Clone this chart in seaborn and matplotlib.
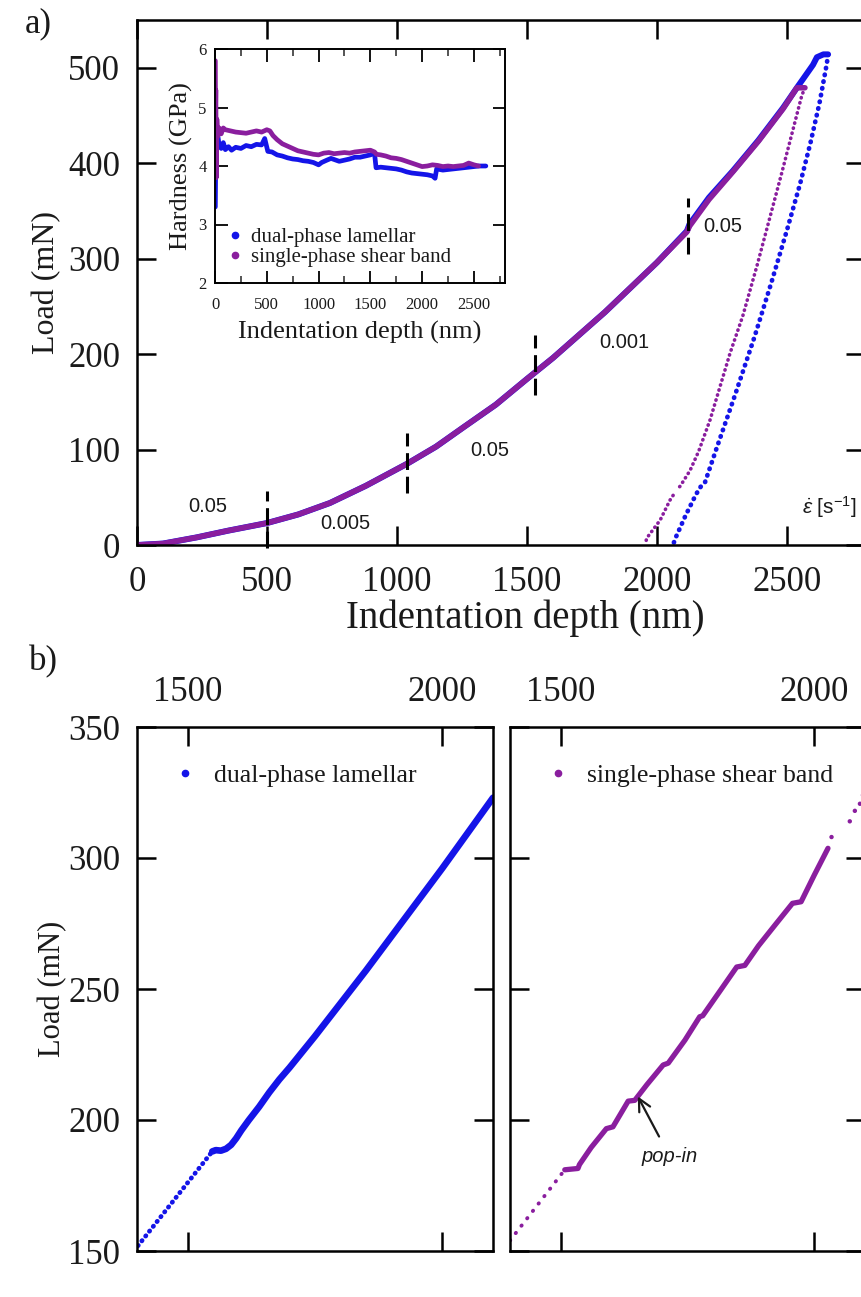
import matplotlib
matplotlib.use("Agg")
import matplotlib.pyplot as plt
from matplotlib.lines import Line2D
from matplotlib.ticker import MultipleLocator
import seaborn as sns

# ---------------- data ----------------
# Panel a: load-depth, dual-phase lamellar (blue) and single-phase shear band (purple)
lam_load_depth = [0, 100, 230, 350, 500, 620, 742, 880, 1038, 1150, 1254, 1380, 1500,
                  1600, 1700, 1800, 1900, 2000, 2115, 2125, 2200, 2292, 2390, 2485,
                  2538, 2600, 2615, 2640, 2658]
lam_load = [0, 1.5, 8, 15, 23, 32, 44, 62, 85, 103, 123, 147, 174,
            196, 220, 244, 270, 296, 329, 336, 364, 392, 424, 458,
            479, 503, 511, 514, 514]
sb_load_depth = [0, 100, 230, 350, 500, 620, 742, 880, 1038, 1150, 1254, 1380, 1500,
                 1600, 1700, 1800, 1900, 2000, 2115, 2125, 2200, 2292, 2390, 2485,
                 2538, 2569]
sb_load = [0, 1.5, 8, 15, 23, 32, 44, 62, 85, 103, 123, 147, 174,
           196, 220, 244, 270, 296, 328, 334, 362, 391, 423, 457,
           479, 479]
lam_unload_depth = [2658, 2653, 2625, 2590, 2550, 2500, 2440, 2375, 2300, 2230, 2185,
                    2168, 2150, 2110, 2069, 2062]
lam_unload = [514, 504, 463, 421, 378, 330, 275, 218, 157, 102, 66,
              61, 53, 31, 6, 0]
sb_unload_depth = [2569, 2557, 2520, 2480, 2435, 2385, 2330, 2281, 2204, 2160, 2127,
                   2090, 2076]
sb_unload = [479, 471, 432, 390, 344, 293, 240, 201, 131, 98, 78, 62, 57.5]
sb_unload2_depth = [2062, 2050, 2012, 1960, 1955]
sb_unload2 = [52, 47, 26, 7, 0]

# strain-rate segments
rate_change_depth = [500, 1040, 1530, 2120]
rate_mark_low = [-3, 55, 157, 305]
rate_mark_high = [57, 117, 220, 364]
rate_labels = ["0.05", "0.005", "0.05", "0.001", "0.05"]
rate_label_depth = [273, 800, 1358, 1873, 2254]
rate_label_load = [40, 23, 99, 212, 334]

# Inset: hardness vs depth
lam_h_depth = [3, 6, 10, 15, 25, 40, 60, 80, 100, 130, 160, 200, 250, 300, 350, 400, 450,
               480, 510, 550, 600, 650, 700, 750, 800, 850, 900, 950, 1000, 1030, 1080,
               1120, 1200, 1250, 1300, 1350, 1400, 1450, 1500, 1540, 1555, 1600, 1650,
               1700, 1750, 1800, 1850, 1900, 1950, 2000, 2050, 2100, 2125, 2140, 2200,
               2250, 2300, 2350, 2400, 2450, 2500, 2550, 2615]
lam_h = [3.3, 3.9, 4.7, 4.3, 4.55, 4.35, 4.3, 4.4, 4.28, 4.33, 4.27, 4.32, 4.3, 4.35, 4.33,
         4.37, 4.36, 4.47, 4.25, 4.24, 4.19, 4.17, 4.14, 4.12, 4.11, 4.09, 4.08, 4.06,
         4.02, 4.06, 4.1, 4.13, 4.08, 4.1, 4.12, 4.15, 4.15, 4.17, 4.19, 4.22, 3.97,
         3.98, 3.97, 3.96, 3.95, 3.93, 3.9, 3.88, 3.87, 3.86, 3.85, 3.83, 3.79, 3.95,
         3.93, 3.94, 3.95, 3.96, 3.97, 3.98, 3.99, 4.0, 4.0]
sb_h_depth = [3, 5, 8, 12, 18, 25, 40, 60, 80, 100, 150, 200, 250, 300, 350, 400, 450, 500,
              530, 560, 600, 650, 700, 750, 800, 850, 900, 950, 1000, 1050, 1100, 1150,
              1200, 1250, 1300, 1350, 1400, 1450, 1500, 1540, 1560, 1600, 1650, 1700,
              1750, 1800, 1850, 1900, 1950, 2000, 2050, 2100, 2150, 2200, 2250, 2300,
              2350, 2400, 2450, 2500, 2545]
sb_h = [5.8, 4.9, 5.3, 3.8, 4.8, 4.5, 4.65, 4.55, 4.65, 4.62, 4.6, 4.58, 4.57, 4.56, 4.58,
        4.6, 4.58, 4.62, 4.6, 4.52, 4.45, 4.38, 4.34, 4.3, 4.26, 4.24, 4.22, 4.2, 4.19,
        4.22, 4.23, 4.21, 4.22, 4.23, 4.22, 4.24, 4.25, 4.26, 4.27, 4.24, 4.2, 4.19,
        4.17, 4.14, 4.13, 4.11, 4.08, 4.05, 4.02, 3.99, 4.0, 4.02, 4.01, 3.99, 4.0,
        3.99, 4.0, 4.01, 4.05, 4.02, 4.0]

# Panel b: zoom on the 0.001 s^-1 segment
lam_b_sparse_depth = [1402, 1548]
lam_b_sparse_load = [152, 188]
lam_b_depth = [1548, 1555, 1565, 1575, 1585, 1595, 1605, 1620, 1640, 1660, 1680, 1700,
               1750, 1800, 1850, 1900, 1950, 2000, 2050, 2100]
lam_b_load = [188, 188.5, 188.3, 189, 190.5, 193, 196, 200, 205, 210.5, 215.5, 220,
              232, 244.5, 257, 270, 283, 296, 309.5, 323]
sb_b_sparse_depth = [1400, 1508]
sb_b_sparse_load = [154, 181]
sb_b_depth = [1508, 1534, 1537, 1560, 1590, 1603, 1633, 1646, 1670, 1702, 1712, 1745,
              1774, 1780, 1815, 1847, 1863, 1890, 1925, 1957, 1974, 2000, 2027]
sb_b_load = [181, 181.5, 183, 189.5, 196.7, 197.4, 207.2, 207.5, 213.5, 221, 221.7, 230.5,
             239.4, 239.8, 249.5, 258.4, 259, 266.5, 275, 282.7, 283.3, 293.5, 303.7]
sb_b_tail_depth = [2034, 2070, 2080, 2090, 2096]
sb_b_tail_load = [308, 314, 318, 320.7, 324]

a_xticks = [0, 500, 1000, 1500, 2000, 2500]
a_yticks = [0, 100, 200, 300, 400, 500]
in_xticks = [0, 500, 1000, 1500, 2000, 2500]
in_yticks = [2, 3, 4, 5, 6]
b_xticks = [1500, 2000]
b_yticks = [150, 200, 250, 300, 350]

series_names = ["dual-phase lamellar", "single-phase shear band"]

# ---------------- style ----------------
BLUE = "#1414E8"
PURPLE = "#8A1E9E"
TXT = "#1a1a1a"

sns.set_theme(style="ticks")
plt.rcParams["font.family"] = ["Liberation Serif", "DejaVu Serif"]
plt.rcParams["mathtext.fontset"] = "custom"
plt.rcParams["mathtext.rm"] = "Liberation Sans"
plt.rcParams["mathtext.it"] = "Liberation Sans:italic"
plt.rcParams["axes.edgecolor"] = "black"
plt.rcParams["text.color"] = TXT

W, H = 861, 1297
fig = plt.figure(figsize=(W / 100, H / 100), dpi=100)
fig.patch.set_facecolor("white")


def rect(x0, y0, x1, y1):
    return [x0 / W, 1 - y1 / H, (x1 - x0) / W, (y1 - y0) / H]


def style_axes(ax, lw=1.8, length=14, width=1.8, size=25, pad=12):
    for s in ax.spines.values():
        s.set_linewidth(lw)
        s.set_color("black")
        s.set_visible(True)
    ax.tick_params(which="major", direction="in", top=True, right=True,
                   length=length, width=width, labelsize=size, pad=pad,
                   colors="black", labelcolor=TXT)


dotted = dict(linestyle=(0, (0.1, 1.35)), dash_capstyle="round")

# ---------------- panel a ----------------
ax = fig.add_axes(rect(137, 20, 865, 545))
style_axes(ax)
sns.lineplot(x=lam_load_depth, y=lam_load, ax=ax, color=BLUE, lw=4.3,
             sort=False, estimator=None, legend=False)
sns.lineplot(x=sb_load_depth, y=sb_load, ax=ax, color=PURPLE, lw=4.0,
             sort=False, estimator=None, legend=False)
sns.lineplot(x=lam_unload_depth, y=lam_unload, ax=ax, color=BLUE, lw=3.4,
             sort=False, estimator=None, legend=False, **dotted)
sns.lineplot(x=sb_unload_depth, y=sb_unload, ax=ax, color=PURPLE, lw=2.6,
             sort=False, estimator=None, legend=False, **dotted)
sns.lineplot(x=sb_unload2_depth, y=sb_unload2, ax=ax, color=PURPLE, lw=2.6,
             sort=False, estimator=None, legend=False, **dotted)
for d, lo, hi in zip(rate_change_depth, rate_mark_low, rate_mark_high):
    ax.plot([d, d], [lo, hi], color="black", lw=2.2, linestyle=(0, (5.5, 2.2)),
            zorder=5, clip_on=False)
for lab, d, l in zip(rate_labels, rate_label_depth, rate_label_load):
    ax.text(d, l, lab, fontsize=14.5, family="Liberation Sans", ha="center",
            va="center", color=TXT)
ax.text(2662, 40, r"$\dot{\varepsilon}$ [s$^{-1}$]", fontsize=15,
        family="Liberation Sans", ha="center", va="center", color=TXT)
ax.set_xlim(0, 2800)
ax.set_ylim(0, 550)
ax.set_xticks(a_xticks)
ax.set_xticklabels([str(t) for t in a_xticks])
ax.set_yticks(a_yticks)
ax.set_yticklabels([str(t) for t in a_yticks])
ax.tick_params(axis="x", pad=15)
ax.set_xlabel("Indentation depth (nm)", fontsize=28, color=TXT)
ax.xaxis.label.set_va("top")
ax.xaxis.set_label_coords(0.534, -0.103)
ax.set_ylabel("Load (mN)", fontsize=23, labelpad=5, color=TXT)

# ---------------- inset ----------------
ins = fig.add_axes(rect(215, 49, 505, 283))
ins.set_facecolor("white")
style_axes(ins, lw=1.4, length=9, width=1.3, size=12, pad=6)
ins.tick_params(axis="x", pad=10)
ins.tick_params(which="minor", direction="in", top=True, right=True,
                length=5, width=1.1)
sns.lineplot(x=lam_h_depth, y=lam_h, ax=ins, color=BLUE, lw=3.4,
             sort=False, estimator=None, legend=False)
sns.lineplot(x=sb_h_depth, y=sb_h, ax=ins, color=PURPLE, lw=3.4,
             sort=False, estimator=None, legend=False)
ins.set_xlim(0, 2800)
ins.set_ylim(2, 6)
ins.set_xticks(in_xticks)
ins.set_xticklabels([str(t) for t in in_xticks])
ins.xaxis.set_minor_locator(MultipleLocator(250))
ins.set_yticks(in_yticks)
ins.set_yticklabels([str(t) for t in in_yticks])
ins.set_xlabel("Indentation depth (nm)", fontsize=19, labelpad=6, color=TXT)
ins.set_ylabel("Hardness (GPa)", fontsize=19, labelpad=4, color=TXT)
h_in = [Line2D([], [], ls="", marker="o", ms=4.5, color=BLUE),
        Line2D([], [], ls="", marker="o", ms=4.5, color=PURPLE)]
ins.legend(h_in, series_names, loc="center left", bbox_to_anchor=(0.04, 0.152),
           frameon=False, fontsize=15, handlelength=0.8, handletextpad=0.35,
           labelspacing=0.0, borderpad=0, borderaxespad=0)

# ---------------- panel b ----------------
axL = fig.add_axes(rect(137, 727, 493, 1251))
axR = fig.add_axes(rect(510, 727, 865, 1251))
for a in (axL, axR):
    style_axes(a)
    a.set_xlim(1400, 2100)
    a.set_ylim(150, 350)
    a.set_xticks(b_xticks)
    a.set_xticklabels([str(t) for t in b_xticks])
    a.set_yticks(b_yticks)
    a.set_yticklabels([str(t) for t in b_yticks])
    a.tick_params(axis="x", labeltop=True, labelbottom=False, pad=13)
    a.set_xlabel("")

sns.lineplot(x=lam_b_sparse_depth, y=lam_b_sparse_load, ax=axL, color=BLUE, lw=3.4,
             sort=False, estimator=None, legend=False,
             linestyle=(0, (0.1, 1.2)), dash_capstyle="round")
sns.lineplot(x=lam_b_depth, y=lam_b_load, ax=axL, color=BLUE, lw=4.8,
             sort=False, estimator=None, legend=False)
axL.set_ylabel("Load (mN)", fontsize=22, labelpad=1, color=TXT)
axL.legend([Line2D([], [], ls="", marker="o", ms=4.5, color=BLUE)], [series_names[0]],
           loc="center left", bbox_to_anchor=(0.1, 0.908), frameon=False,
           fontsize=18.5, handlelength=1.0, handletextpad=0.6, borderpad=0,
           borderaxespad=0)

sns.lineplot(x=sb_b_sparse_depth, y=sb_b_sparse_load, ax=axR, color=PURPLE, lw=2.8,
             sort=False, estimator=None, legend=False,
             linestyle=(0, (0.1, 2.3)), dash_capstyle="round")
sns.lineplot(x=sb_b_depth, y=sb_b_load, ax=axR, color=PURPLE, lw=3.8,
             sort=False, estimator=None, legend=False)
sns.scatterplot(x=sb_b_tail_depth, y=sb_b_tail_load, ax=axR, color=PURPLE, s=10,
                edgecolor="none", legend=False)
axR.tick_params(axis="y", labelleft=False)
axR.set_ylabel("")
axR.legend([Line2D([], [], ls="", marker="o", ms=4.5, color=PURPLE)], [series_names[1]],
           loc="center left", bbox_to_anchor=(0.1, 0.908), frameon=False,
           fontsize=18.5, handlelength=1.0, handletextpad=0.6, borderpad=0,
           borderaxespad=0)
axR.annotate("pop-in", xy=(1652, 209), xytext=(1715, 186), fontsize=14.5,
             family="Liberation Sans", style="italic", ha="center", va="center",
             color=TXT,
             arrowprops=dict(arrowstyle="->", color=TXT, lw=1.6,
                             mutation_scale=22, shrinkA=6, shrinkB=0))

# panel letters
fig.text(38 / W, 1 - 24 / H, "a)", fontsize=25, ha="center", va="center", color=TXT)
fig.text(43 / W, 1 - 662 / H, "b)", fontsize=25, ha="center", va="center", color=TXT)

fig.savefig("out.png", dpi=100)
